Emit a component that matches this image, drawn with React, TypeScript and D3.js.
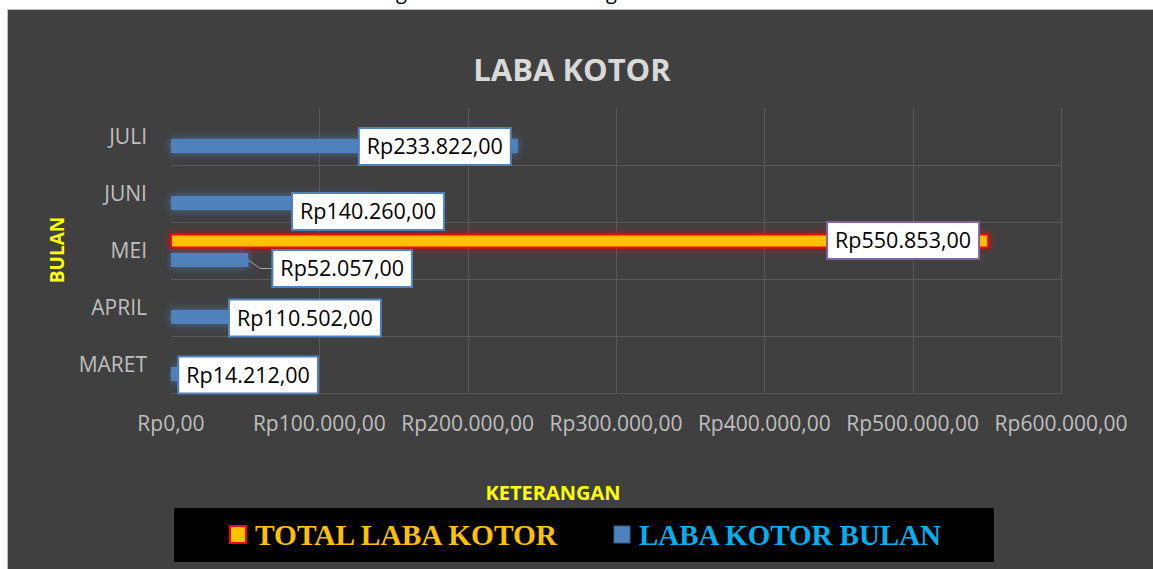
import React, { useEffect, useRef } from "react";
import * as d3 from "d3";

// ---- data ----
const months = ["MARET", "APRIL", "MEI", "JUNI", "JULI"];
const labaBulan = [14212, 110502, 52057, 140260, 233822];
const totalLaba = [null, null, 550853, null, null];
const xTicks = [0, 100000, 200000, 300000, 400000, 500000, 600000];
const seriesNames = ["TOTAL LABA KOTOR", "LABA KOTOR BULAN"];

// label placement (offsets of label centre from bar end / bar centre)
const bulanLabelOffsets = [
  { dx: 56, dy: 1 },
  { dx: -30, dy: 1 },
  { dx: 94, dy: 8.5, leader: true },
  { dx: -11, dy: 8.5 },
  { dx: -83, dy: 0.5 },
];
const totalLabelOffsets = [null, null, { dx: -85, dy: -0.5 }, null, null];

const fmt = (v: number) => {
  const s = Math.round(v).toString().replace(/\B(?=(\d{3})+(?!\d))/g, ".");
  return "Rp" + s + ",00";
};

const LABEL_FS = 21.5;

export default function App() {
  const ref = useRef<SVGSVGElement | null>(null);

  useEffect(() => {
    const svg = d3.select(ref.current);
    svg.selectAll("*").remove();
    const W = 1153, H = 569;

    const defs = svg.append("defs");
    const mkGlow = (id: string, color: string, op: number, sd: number) => {
      const f = defs.append("filter").attr("id", id)
        .attr("x", "-5%").attr("y", "-150%").attr("width", "110%").attr("height", "400%");
      f.append("feGaussianBlur").attr("in", "SourceAlpha").attr("stdDeviation", sd).attr("result", "b");
      f.append("feFlood").attr("flood-color", color).attr("flood-opacity", op).attr("result", "c");
      f.append("feComposite").attr("in", "c").attr("in2", "b").attr("operator", "in").attr("result", "g");
      const m = f.append("feMerge");
      m.append("feMergeNode").attr("in", "g");
      m.append("feMergeNode").attr("in", "SourceGraphic");
    };
    mkGlow("glowBlue", "#4F81BD", 0.75, 4);
    mkGlow("glowRed", "#FF0000", 0.55, 5);

    // page background
    svg.append("rect").attr("x", 0).attr("y", 0).attr("width", W).attr("height", H).attr("fill", "#ffffff");
    // cut-off text above chart (only descenders visible, as in the reference)
    svg.append("text").attr("x", 396).attr("y", -1).attr("font-family", "Open Sans").attr("font-size", 20).attr("fill", "#000").text("g");
    svg.append("text").attr("x", 606).attr("y", -1).attr("font-family", "Open Sans").attr("font-size", 20).attr("fill", "#000").text("g");

    // chart area
    svg.append("rect").attr("x", 7.5).attr("y", 9.5).attr("width", W).attr("height", H)
      .attr("fill", "#404040").attr("stroke", "#BFBFBF").attr("stroke-width", 1);

    const x = d3.scaleLinear().domain([0, 600000]).range([171, 1061]);
    const y = d3.scaleBand().domain(months.slice().reverse()).range([108, 393]).paddingInner(0).paddingOuter(0);
    const sub = d3.scalePoint().domain(["total", "bulan"]).range([y.bandwidth() / 3, (2 * y.bandwidth()) / 3]);
    const barH = 14;

    // gridlines
    const g = svg.append("g");
    xTicks.slice(1).forEach((t) => {
      g.append("line").attr("x1", Math.round(x(t)) + 0.5).attr("x2", Math.round(x(t)) + 0.5)
        .attr("y1", 108).attr("y2", 393).attr("stroke", "#595959").attr("stroke-width", 1);
    });
    months.forEach((m) => {
      const yb = (y(m) as number) + y.bandwidth();
      g.append("line").attr("x1", 171).attr("x2", 1061).attr("y1", Math.round(yb) + 0.5).attr("y2", Math.round(yb) + 0.5)
        .attr("stroke", "#595959").attr("stroke-width", 1);
    });

    // title
    svg.append("text").attr("x", 572).attr("y", 81).attr("text-anchor", "middle")
      .attr("font-family", "Open Sans").attr("font-weight", "bold").attr("font-size", 31)
      .attr("fill", "#D9D9D9").text("LABA KOTOR");

    // x tick labels
    xTicks.forEach((t) => {
      svg.append("text").attr("x", x(t)).attr("y", 431).attr("text-anchor", "middle")
        .attr("font-family", "Open Sans").attr("font-size", 21).attr("fill", "#BFBFBF").text(fmt(t));
    });

    // category labels
    months.forEach((m) => {
      svg.append("text").attr("x", 147).attr("y", (y(m) as number) + y.bandwidth() / 2 + 7)
        .attr("text-anchor", "end").attr("font-family", "Open Sans").attr("font-size", 21)
        .attr("fill", "#BFBFBF").text(m);
    });

    // y axis title
    svg.append("text").attr("transform", "translate(64,250) rotate(-90)").attr("text-anchor", "middle")
      .attr("font-family", "Open Sans").attr("font-weight", "bold").attr("font-size", 19)
      .attr("fill", "#FFFF00").text("BULAN");

    // bars: total
    months.forEach((m, i) => {
      const v = totalLaba[i];
      if (v == null) return;
      const cy = (y(m) as number) + (sub("total") as number);
      svg.append("rect").attr("x", x(0)).attr("y", cy - barH / 2 + 0.5).attr("width", x(v) - x(0)).attr("height", barH - 1)
        .attr("fill", "#FFC000").attr("stroke", "#FF0000").attr("stroke-width", 2).attr("filter", "url(#glowRed)");
    });
    // bars: bulan
    months.forEach((m, i) => {
      const v = labaBulan[i];
      const cy = (y(m) as number) + (sub("bulan") as number);
      svg.append("rect").attr("x", x(0)).attr("y", cy - barH / 2).attr("width", x(v) - x(0)).attr("height", barH)
        .attr("fill", "#4F81BD").attr("filter", "url(#glowBlue)");
    });

    // data labels
    const measure = (txt: string) => {
      const tmp = svg.append("text").attr("font-family", "Open Sans").attr("font-size", LABEL_FS).text(txt);
      const w = (tmp.node() as SVGTextElement).getComputedTextLength();
      tmp.remove();
      return w;
    };
    const drawLabel = (cx: number, cy: number, txt: string, border: string) => {
      const w = measure(txt);
      svg.append("rect").attr("x", cx - w / 2 - 8).attr("y", cy - 18.5).attr("width", w + 16).attr("height", 37)
        .attr("fill", "#fff").attr("stroke", border).attr("stroke-width", 2);
      svg.append("text").attr("x", cx).attr("y", cy + 7.5).attr("text-anchor", "middle")
        .attr("font-family", "Open Sans").attr("font-size", LABEL_FS).attr("fill", "#000").text(txt);
    };

    months.forEach((m, i) => {
      const v = labaBulan[i];
      const o = bulanLabelOffsets[i];
      const cy = (y(m) as number) + (sub("bulan") as number);
      const ex = x(v);
      const lcx = ex + o.dx, lcy = cy + o.dy;
      if (o.leader) {
        const w = measure(fmt(v));
        const left = lcx - w / 2 - 8;
        svg.append("path").attr("d", `M${ex},${cy} L${ex + 12},${lcy} L${left},${lcy}`)
          .attr("fill", "none").attr("stroke", "#A6A6A6").attr("stroke-width", 1);
      }
      drawLabel(lcx, lcy, fmt(v), "#4F81BD");
    });
    months.forEach((m, i) => {
      const v = totalLaba[i];
      const o = totalLabelOffsets[i];
      if (v == null || !o) return;
      const cy = (y(m) as number) + (sub("total") as number);
      drawLabel(x(v) + o.dx, cy + o.dy, fmt(v), "#8064A2");
    });

    // legend title
    svg.append("text").attr("x", 553).attr("y", 500).attr("text-anchor", "middle")
      .attr("font-family", "Open Sans").attr("font-weight", "bold").attr("font-size", 20)
      .attr("fill", "#FFFF00").text("KETERANGAN");

    // legend box
    svg.append("rect").attr("x", 174).attr("y", 508).attr("width", 820).attr("height", 54).attr("fill", "#000");
    const legendItems = [
      { name: seriesNames[0], x: 229, fill: "#FFC000", stroke: "#FF0000", sw: 2, color: "#FFC000" },
      { name: seriesNames[1], x: 613, fill: "#4F81BD", stroke: "#385D8A", sw: 1, color: "#00B0F0" },
    ];
    legendItems.forEach((it) => {
      svg.append("rect").attr("x", it.x + 1).attr("y", 526).attr("width", 16).attr("height", 17)
        .attr("fill", it.fill).attr("stroke", it.stroke).attr("stroke-width", it.sw);
      svg.append("text").attr("x", it.x + 26).attr("y", 545)
        .attr("font-family", "Liberation Serif").attr("font-weight", "bold").attr("font-size", 29)
        .attr("textLength", 302).attr("lengthAdjust", "spacingAndGlyphs")
        .attr("fill", it.color).text(it.name);
    });
  }, []);

  return (
    <svg ref={ref} width={1153} height={569}
      style={{ position: "absolute", left: 0, top: 0, display: "block" }} />
  );
}
